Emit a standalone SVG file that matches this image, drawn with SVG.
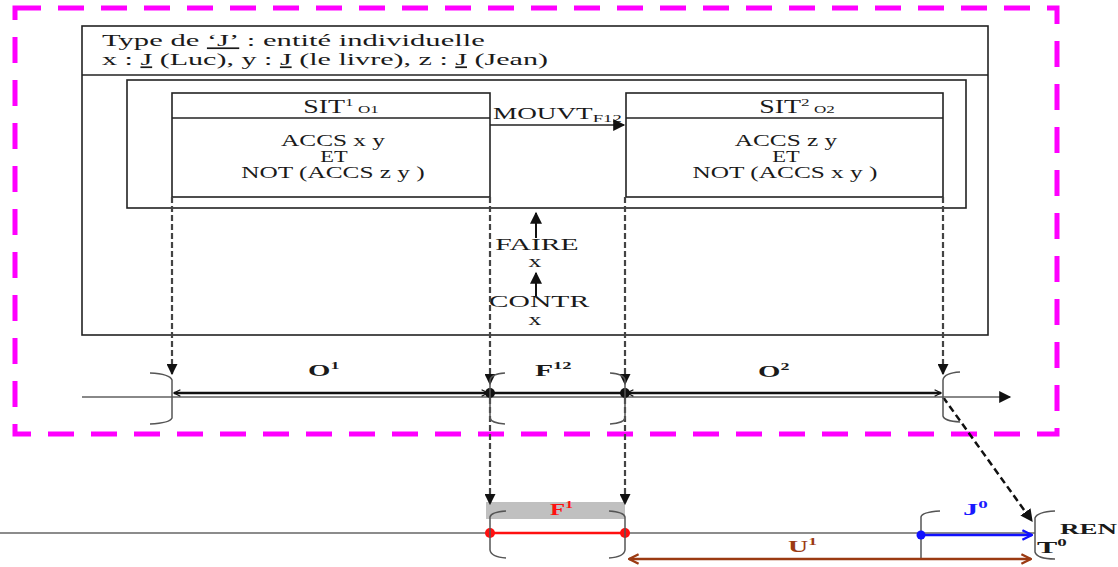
<svg xmlns="http://www.w3.org/2000/svg" width="1118" height="567" viewBox="0 0 1118 567">
<style>
.t{font-family:"Liberation Serif","Times New Roman",serif;fill:#1a1a1a}
.b{font-weight:bold}
.box{fill:none;stroke:#222;stroke-width:1.6}
.dash{fill:none;stroke:#444;stroke-width:2.2;stroke-dasharray:6 3}
.br{fill:none;stroke:#555;stroke-width:1.5}
</style>
<defs>
<marker id="fa" viewBox="0 0 10 10" refX="9" refY="5" markerWidth="5" markerHeight="5" orient="auto"><path d="M0,0 L10,5 L0,10 z" fill="#111"/></marker>
<marker id="ch" viewBox="0 0 10 10" refX="9" refY="5" markerWidth="8" markerHeight="8" orient="auto-start-reverse" markerUnits="userSpaceOnUse"><path d="M1,1 L9,5 L1,9" fill="none" stroke="#111" stroke-width="1.6"/></marker>
<marker id="ga" viewBox="0 0 10 10" refX="9" refY="5" markerWidth="14" markerHeight="12" orient="auto" markerUnits="userSpaceOnUse"><path d="M0,0 L10,5 L0,10 z" fill="#111"/></marker>
<marker id="bra" viewBox="0 0 10 10" refX="9" refY="5" markerWidth="12" markerHeight="12" orient="auto-start-reverse" markerUnits="userSpaceOnUse"><path d="M1,1 L9,5 L1,9" fill="none" stroke="#9b3a12" stroke-width="2"/></marker>
<marker id="blu" viewBox="0 0 10 10" refX="9" refY="5" markerWidth="12" markerHeight="12" orient="auto" markerUnits="userSpaceOnUse"><path d="M1,1 L9,5 L1,9" fill="none" stroke="#1010ff" stroke-width="2"/></marker>
</defs>
<rect width="1118" height="567" fill="#fff"/>

<!-- magenta frame -->
<rect x="15" y="8" width="1042" height="426" fill="none" stroke="#ff00ff" stroke-width="5" stroke-dasharray="26 17"/>

<g id="outer">
<rect class="box" x="82" y="26" width="906" height="309"/>
<line class="box" x1="82" y1="75" x2="988" y2="75"/>
<text class="t" font-size="17" transform="translate(102,46) scale(1.8,1)">Type de <tspan text-decoration="underline">‘J’</tspan> : entité individuelle</text>
<text class="t" font-size="17" transform="translate(102,65) scale(1.77,1)">x : <tspan text-decoration="underline">J</tspan> (Luc), y : <tspan text-decoration="underline">J</tspan> (le livre), z : <tspan text-decoration="underline">J</tspan> (Jean)</text>
</g>
<g id="inner"><rect class="box" x="127" y="80" width="839" height="128"/></g>

<g id="sit1">
<rect class="box" x="172" y="93" width="318" height="104"/>
<line class="box" x1="172" y1="118" x2="490" y2="118"/>
<text class="t" font-size="18" text-anchor="middle" transform="translate(341,113) scale(1.55,1)">SIT<tspan font-size="11" dy="-7">1</tspan><tspan font-size="11" dy="7"> O1</tspan></text>
<text class="t" font-size="16" text-anchor="middle" transform="translate(333,146) scale(1.58,1)">ACCS x y</text>
<text class="t" font-size="16" text-anchor="middle" transform="translate(334,162) scale(1.4,1)">ET</text>
<text class="t" font-size="16" text-anchor="middle" transform="translate(333,178) scale(1.58,1)">NOT (ACCS z y )</text>
</g>
<g id="sit2">
<rect class="box" x="626" y="93" width="317" height="104"/>
<line class="box" x1="626" y1="118" x2="943" y2="118"/>
<text class="t" font-size="18" text-anchor="middle" transform="translate(797,113) scale(1.55,1)">SIT<tspan font-size="11" dy="-7">2</tspan><tspan font-size="11" dy="7"> O2</tspan></text>
<text class="t" font-size="16" text-anchor="middle" transform="translate(786,146) scale(1.58,1)">ACCS z y</text>
<text class="t" font-size="16" text-anchor="middle" transform="translate(786,162) scale(1.4,1)">ET</text>
<text class="t" font-size="16" text-anchor="middle" transform="translate(785,178) scale(1.58,1)">NOT (ACCS x y )</text>
</g>

<g id="labels">
<text class="t" font-size="16" transform="translate(493,119) scale(1.7,1)">MOUVT<tspan font-size="11" dy="3">F12</tspan></text>
<text class="t" font-size="16" text-anchor="middle" transform="translate(537,250) scale(1.85,1)">FAIRE</text>
<text class="t" font-size="16" text-anchor="middle" transform="translate(535,267) scale(1.6,1)">x</text>
<text class="t" font-size="16" text-anchor="middle" transform="translate(539,307) scale(1.85,1)">CONTR</text>
<text class="t" font-size="16" text-anchor="middle" transform="translate(535,325) scale(1.6,1)">x</text>
<text class="t b" font-size="16" transform="translate(308,376) scale(1.8,1)">O<tspan font-size="10" dy="-7">1</tspan></text>
<text class="t b" font-size="16" transform="translate(535,376) scale(1.85,1)">F<tspan font-size="10" dy="-7">12</tspan></text>
<text class="t b" font-size="16" transform="translate(758,377) scale(1.8,1)">O<tspan font-size="10" dy="-7">2</tspan></text>
<rect x="486" y="502" width="139" height="17" fill="#c0c0c0"/>
<text class="t b" font-size="16" style="fill:#ff1010" transform="translate(550,515) scale(1.55,1)">F<tspan font-size="10" dy="-7">1</tspan></text>
<text class="t b" font-size="16" style="fill:#9b3a12" transform="translate(788,552) scale(1.75,1)">U<tspan font-size="10" dy="-7">1</tspan></text>
<text class="t b" font-size="16" style="fill:#1a1aff" transform="translate(963,515) scale(1.9,1)">J<tspan font-size="10" dy="-7">0</tspan></text>
<text class="t b" font-size="15" transform="translate(1060,534) scale(1.8,1)">REN</text>
<text class="t b" font-size="16" transform="translate(1037,553) scale(1.9,1)">T<tspan font-size="10" dy="-7">0</tspan></text>
</g>

<g id="connectors">
<line x1="490" y1="125" x2="624" y2="125" stroke="#222" stroke-width="1.6" marker-end="url(#ga)"/>
<line x1="536" y1="238" x2="536" y2="213" stroke="#111" stroke-width="2" marker-end="url(#ga)"/>
<line x1="536" y1="296" x2="536" y2="273" stroke="#111" stroke-width="2" marker-end="url(#ga)"/>

<line class="dash" x1="172" y1="197" x2="172" y2="374" marker-end="url(#fa)"/>
<line class="dash" x1="490" y1="197" x2="490" y2="384" marker-end="url(#fa)"/>
<line class="dash" x1="625" y1="197" x2="625" y2="384" marker-end="url(#fa)"/>
<line class="dash" x1="943" y1="197" x2="943" y2="374" marker-end="url(#fa)"/>
<line class="dash" x1="490" y1="398" x2="490" y2="504" marker-end="url(#fa)"/>
<line class="dash" x1="625" y1="398" x2="625" y2="504" marker-end="url(#fa)"/>
<line x1="943" y1="397" x2="1032" y2="521" stroke="#111" stroke-width="2.5" stroke-dasharray="7 4" marker-end="url(#fa)"/>

<!-- upper timeline -->
<line x1="82" y1="397" x2="1010" y2="397" stroke="#888" stroke-width="2" marker-end="url(#ga)"/>
<line x1="174" y1="393" x2="488" y2="393" stroke="#111" stroke-width="2.5" marker-start="url(#ch)" marker-end="url(#ch)"/>
<line x1="490" y1="393" x2="625" y2="393" stroke="#111" stroke-width="2.5"/>
<line x1="627" y1="393" x2="941" y2="393" stroke="#111" stroke-width="2.5" marker-start="url(#ch)" marker-end="url(#ch)"/>
<circle cx="490" cy="393" r="5" fill="#111"/>
<circle cx="625" cy="393" r="5" fill="#111"/>
<path class="br" d="M150,373 Q170,374 172,380 L172,418 Q170,423 150,424"/>
<path class="br" d="M505,373 Q491,374 490,380 L490,418 Q491,423 505,424"/>
<path class="br" d="M610,373 Q624,374 625,380 L625,418 Q624,423 610,424"/>
<path class="br" d="M960,372 Q944,373 943,380 L943,416 Q944,421 960,422"/>

<!-- lower timeline -->
<line x1="0" y1="533" x2="1035" y2="533" stroke="#666" stroke-width="1.5"/>
<line x1="490" y1="533" x2="625" y2="533" stroke="#ff1010" stroke-width="2.5"/>
<circle cx="490" cy="533" r="5" fill="#ff1010"/>
<circle cx="625" cy="533" r="5" fill="#ff1010"/>
<path class="br" d="M506,511 Q491,512 490,517 L490,550 Q491,557 506,558"/>
<path class="br" d="M609,511 Q624,512 625,517 L625,550 Q624,557 609,558"/>
<path class="br" d="M940,511 Q922,512 921,517 L921,559"/>
<path class="br" d="M1055,511 Q1037,512 1035,518 L1035,552 Q1037,559 1055,559"/>
<line x1="921" y1="535" x2="1032" y2="535" stroke="#1010ff" stroke-width="2.5" marker-end="url(#blu)"/>
<circle cx="921" cy="535" r="4.5" fill="#1010ff"/>
<line x1="629" y1="559" x2="1031" y2="559" stroke="#9b3a12" stroke-width="2.5" marker-start="url(#bra)" marker-end="url(#bra)"/>
</g>
</svg>
